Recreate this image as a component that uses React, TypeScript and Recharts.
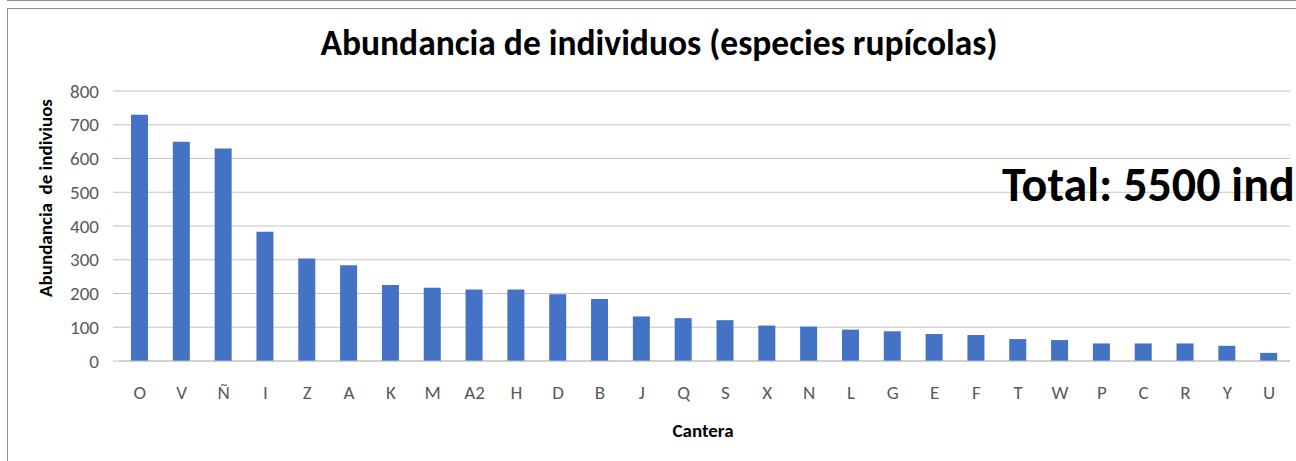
import { BarChart, Bar, XAxis, YAxis, CartesianGrid } from "recharts"

const canteras = ["O", "V", "Ñ", "I", "Z", "A", "K", "M", "A2", "H", "D", "B", "J", "Q", "S", "X", "N", "L", "G", "E", "F", "T", "W", "P", "C", "R", "Y", "U"]
const abundancia = [730, 650, 630, 383, 304, 284, 225, 217, 212, 212, 198, 184, 132, 127, 121, 105, 102, 93, 88, 80, 77, 65, 62, 52, 52, 52, 45, 24]
const yTicks = [0, 100, 200, 300, 400, 500, 600, 700, 800]

const data = canteras.map((c, i) => ({ cantera: c, valor: abundancia[i] }))

const FONT = "Carlito, Lato, 'Open Sans', sans-serif"
const TICK = { fill: "#595959", fontSize: 19, fontFamily: FONT }

export default function App() {
  return (
    <div style={{ position: "absolute", left: 0, top: 0, width: 1296, height: 461, background: "#fff", overflow: "hidden", fontFamily: FONT }}>
      {/* frame lines like the spreadsheet chart */}
      <div style={{ position: "absolute", left: 7, top: 0, width: 1289, height: 1, background: "#8e8e8e" }} />
      <div style={{ position: "absolute", left: 7, top: 8, width: 1289, height: 453, borderTop: "1px solid #8e8e8e", borderLeft: "1px solid #8e8e8e" }} />

      <BarChart width={1296} height={461} data={data} margin={{ top: 91, right: 6, bottom: 20, left: 59 }}>
        <CartesianGrid vertical={false} stroke="#c4c4c4" />
        <XAxis
          dataKey="cantera"
          axisLine={{ stroke: "#bfbfbf" }}
          tickLine={false}
          tickSize={0}
          tickMargin={25}
          height={80}
          tick={TICK}
          interval={0}
        />
        <YAxis
          domain={[0, 800]}
          ticks={yTicks}
          axisLine={false}
          tickLine={{ stroke: "#bfbfbf" }}
          tickSize={6}
          tickMargin={14}
          width={60}
          tick={TICK}
        />
        <Bar dataKey="valor" fill="#4472c4" barSize={17} isAnimationActive={false} />
      </BarChart>

      <div style={{ position: "absolute", left: 0, width: 1318, top: 21, textAlign: "center", fontSize: 35.5, fontWeight: 700, color: "#000", whiteSpace: "nowrap" }}>
        Abundancia de individuos (especies rupícolas)
      </div>
      <div style={{ position: "absolute", left: 1002, top: 155, fontSize: 48, fontWeight: 700, color: "#000", whiteSpace: "nowrap" }}>
        Total: 5500 individuos
      </div>
      <div style={{ position: "absolute", left: 45, top: 198, width: 0, height: 0 }}>
        <div style={{ position: "absolute", left: 0, top: 0, transform: "translate(-50%, -50%) rotate(-90deg)", fontSize: 19, fontWeight: 700, color: "#000", whiteSpace: "pre" }}>
          Abundancia  de indiviuos
        </div>
      </div>
      <div style={{ position: "absolute", left: 0, width: 1406, top: 419, textAlign: "center", fontSize: 19, fontWeight: 700, color: "#000", whiteSpace: "nowrap" }}>
        Cantera
      </div>
    </div>
  )
}
